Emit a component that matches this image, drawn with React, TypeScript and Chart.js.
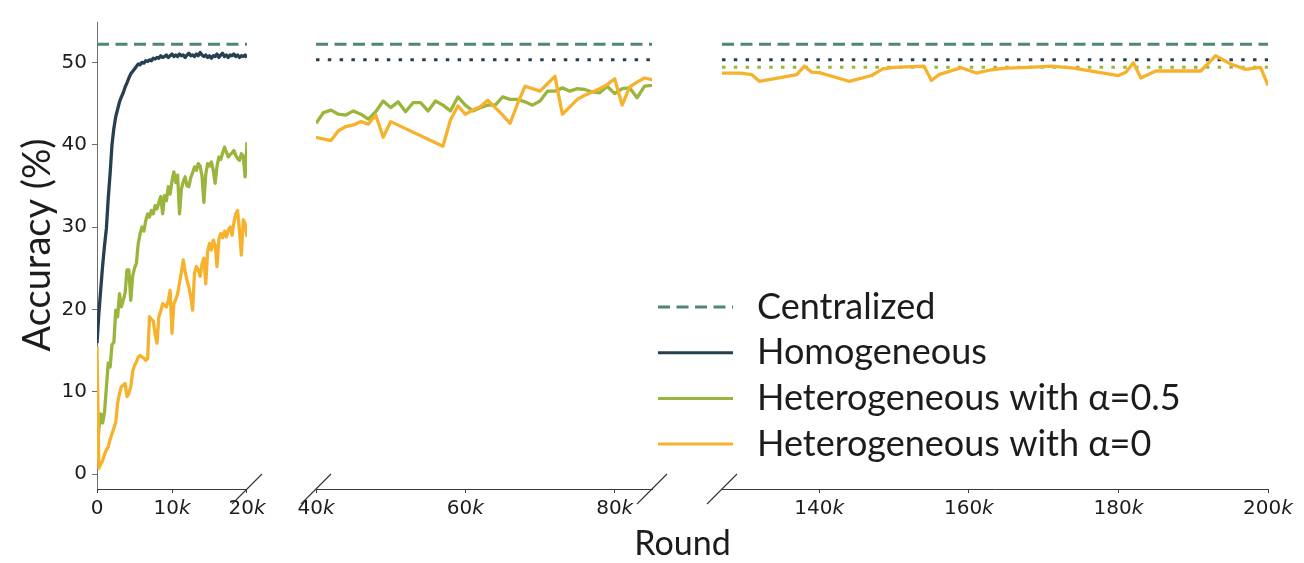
import React, { useEffect, useRef } from 'react';
import { Chart, registerables } from 'chart.js';

Chart.register(...registerables);

// ---------------- data ----------------
const ROUNDS_P1 = [
  0, 250, 500, 750, 1000, 1250, 1500, 1750, 2000, 2250,
  2500, 2750, 3000, 3250, 3500, 3750, 4000, 4250, 4500, 4750,
  5000, 5250, 5500, 5750, 6000, 6250, 6500, 6750, 7000, 7250,
  7500, 7750, 8000, 8250, 8500, 8750, 9000, 9250, 9500, 9750,
  10000, 10250, 10500, 10750, 11000, 11250, 11500, 11750, 12000, 12250,
  12500, 12750, 13000, 13250, 13500, 13750, 14000, 14250, 14500, 14750,
  15000, 15250, 15500, 15750, 16000, 16250, 16500, 16750, 17000, 17250,
  17500, 17750, 18000, 18250, 18500, 18750, 19000, 19250, 19500, 19750,
  20000,
];

const HOMO_P1 = [
  15.9, 19.5, 22.5, 25.3, 27.7, 29.8, 33.5, 36.5, 40.0, 42.0,
  43.4, 44.3, 45.2, 45.8, 46.3, 47.0, 47.5, 48.1, 48.6, 48.9,
  49.2, 49.5, 49.8, 49.7, 50.0, 49.9, 50.2, 50.1, 50.3, 50.2,
  50.5, 50.4, 50.6, 50.5, 50.8, 50.6, 50.7, 50.9, 50.6, 50.8,
  51.0, 50.7, 50.9, 50.7, 51.0, 50.8, 50.9, 50.6, 50.9, 51.1,
  50.8, 50.9, 50.7, 51.0, 50.8, 51.2, 50.9, 50.7, 50.9, 50.6,
  50.8, 50.5, 50.8, 50.7, 51.0, 50.6, 50.9, 51.1, 50.7, 50.9,
  50.6, 50.9, 50.8, 51.0, 50.7, 50.9, 50.6, 50.8, 50.7, 50.9,
  50.6,
];

const HET05_P1 = [
  2.0, 5.5, 7.3, 6.2, 7.5, 10.5, 13.5, 13.0, 15.7, 16.0,
  19.9, 19.1, 21.9, 20.3, 21.1, 22.0, 24.8, 24.8, 21.1, 24.0,
  25.0, 25.6, 28.0, 29.2, 30.0, 29.5, 30.8, 31.6, 31.2, 32.0,
  31.6, 32.6, 32.2, 33.0, 33.7, 31.6, 33.8, 33.2, 34.9, 34.0,
  35.6, 36.7, 35.4, 36.3, 31.6, 34.6, 35.5, 36.1, 35.0, 34.9,
  36.0, 36.6, 37.3, 36.9, 37.7, 37.4, 36.2, 33.0, 36.4, 37.7,
  37.4, 37.9, 36.9, 35.3, 37.4, 38.5, 38.2, 39.0, 39.7, 39.1,
  38.5, 38.8, 39.0, 39.3, 38.7, 38.3, 38.1, 38.9, 38.6, 36.1,
  40.3,
];

const HET0_P1 = [
  15.5, 0.7, 1.2, 1.6, 2.4, 2.9, 3.3, 4.2, 4.9, 5.6,
  6.3, 8.6, 9.8, 10.6, 10.8, 11.0, 9.4, 9.8, 10.6, 12.4,
  13.2, 13.6, 14.2, 14.4, 14.2, 14.1, 13.8, 14.0, 19.1, 18.8,
  18.6, 17.0, 15.9, 19.1, 19.8, 20.7, 20.5, 20.3, 21.0, 22.3,
  17.1, 20.7, 21.2, 21.9, 23.2, 24.5, 26.0, 24.6, 23.5, 22.7,
  21.5, 19.9, 24.4, 25.2, 24.8, 24.0, 25.5, 26.2, 23.1, 27.0,
  28.0, 27.2, 28.4, 27.8, 25.2, 28.5, 29.2, 28.7, 29.5, 28.8,
  29.6, 30.0, 29.0, 30.5, 31.6, 32.0, 29.5, 26.6, 30.9, 30.4,
  28.8,
];

const ROUNDS_P2_HET05 = [
  40000, 41000, 42000, 43000, 44000, 45000, 46000, 47000, 48000, 49000,
  50000, 51000, 52000, 53000, 54000, 55000, 56000, 57000, 58000, 59000,
  60000, 61000, 62000, 63000, 64000, 65000, 66000, 67000, 68000, 69000,
  70000, 71000, 72000, 73000, 74000, 75000, 76000, 77000, 78000, 79000,
  80000, 81000, 82000, 83000, 84000, 85000,
];
const HET05_P2 = [
  42.6, 43.9, 44.2, 43.7, 43.6, 44.1, 43.7, 43.1, 44.0, 45.3,
  44.5, 45.2, 44.0, 45.1, 45.1, 44.1, 45.3, 44.8, 44.1, 45.8,
  44.8, 44.1, 44.5, 44.8, 44.8, 45.8, 45.5, 45.5, 45.2, 44.8,
  45.3, 46.5, 46.5, 46.9, 46.5, 46.8, 46.7, 46.4, 46.3, 47.1,
  46.2, 46.8, 46.9, 45.7, 47.1, 47.2,
];

const ROUNDS_P2_HET0 = [
  40000, 42000, 43000, 44000, 45000, 46000, 47000, 48000, 49000, 50000,
  57000, 58000, 59000, 60000, 61000, 62000, 63000, 64000, 65000, 66000,
  67000, 68000, 69000, 70000, 71000, 72000, 73000, 74000, 75000, 76000,
  77000, 78000, 79000, 80000, 81000, 82000, 83000, 84000, 85000,
];
const HET0_P2 = [
  40.9, 40.5, 41.7, 42.2, 42.4, 42.8, 42.5, 43.6, 40.9, 42.8,
  39.8, 43.0, 44.7, 43.7, 44.2, 44.6, 45.4, 44.5, 43.6, 42.6,
  45.0, 47.1, 46.8, 46.5, 47.4, 48.3, 43.7, 44.6, 45.5, 46.0,
  46.4, 46.8, 47.3, 48.0, 44.8, 47.0, 47.6, 48.1, 47.9,
];

const ROUNDS_P3_HET0 = [
  127000, 129500, 131000, 132000, 137000, 138000, 139000, 140000, 144000, 147000,
  148500, 150000, 154000, 155000, 156000, 159000, 161000, 163000, 165000, 168000,
  171000, 174000, 180000, 181000, 182000, 183000, 185000, 191000, 193000, 195000,
  197000, 199000, 200000,
];
const HET0_P3 = [
  48.7, 48.7, 48.5, 47.7, 48.5, 49.55, 48.8, 48.75, 47.7, 48.4,
  49.2, 49.4, 49.55, 47.8, 48.5, 49.35, 48.7, 49.1, 49.3, 49.4,
  49.55, 49.3, 48.4, 48.8, 49.95, 48.1, 48.95, 48.95, 50.8, 49.8,
  49.15, 49.4, 47.2,
];

const CENTRALIZED_ACC = 52.2;
const HOMO_FINAL_ACC = 50.3;
const HET05_FINAL_ACC = 49.4;

const PANEL_RANGES = [
  [0, 20000],
  [40000, 85000],
  [127000, 200000],
];
const X_TICKS = [
  [0, 10000, 20000],
  [40000, 60000, 80000],
  [140000, 160000, 180000, 200000],
];
const Y_TICKS = [0, 10, 20, 30, 40, 50];

const LABELS = {
  central: 'Centralized',
  homo: 'Homogeneous',
  het05: 'Heterogeneous with α=0.5',
  het0: 'Heterogeneous with α=0',
};
const LEGEND_ORDER = [LABELS.central, LABELS.homo, LABELS.het05, LABELS.het0];
const X_TITLE = 'Round';
const Y_TITLE = 'Accuracy (%)';

// ---------------- styles ----------------
const COLORS = {
  central: '#4e877a',
  homo: '#264052',
  het05: '#9ab53b',
  het0: '#f7b22d',
};
const AXIS_COLOR_X = '#3a3a3a';
const AXIS_COLOR_Y = '#6f6f6f';
const TEXT_COLOR = '#1c1c1c';
const TITLE_FONT = 'Lato';
const TICK_FONT = { family: "'DejaVu Sans'", size: 20 };
const PANEL_WIDTHS = [150, 336, 546];
const GAP_WIDTHS = [69, 70];
const DASH = [12, 6.5];
const DOT = [3.5, 8.3];
const LINE_W = 3.3;

const pts = (xs: number[], ys: number[]) => xs.map((x, i) => ({ x, y: ys[i] }));
const flat = (range: number[], v: number) => [
  { x: range[0], y: v },
  { x: range[1], y: v },
];

const baseLine = {
  type: 'line' as const,
  borderWidth: LINE_W,
  pointRadius: 0,
  pointHoverRadius: 0,
  tension: 0,
  fill: false,
  borderCapStyle: 'butt' as const,
  borderJoinStyle: 'round' as const,
  yAxisID: 'y',
};

function buildDatasets() {
  const ds: any[] = [];
  // Panel 1
  ds.push({ ...baseLine, label: LABELS.central, xAxisID: 'x1', data: flat(PANEL_RANGES[0], CENTRALIZED_ACC), borderColor: COLORS.central, borderDash: DASH, borderWidth: 3, order: 5 });
  ds.push({ ...baseLine, label: LABELS.homo, xAxisID: 'x1', data: pts(ROUNDS_P1, HOMO_P1), borderColor: COLORS.homo, order: 3 });
  ds.push({ ...baseLine, label: LABELS.het05, xAxisID: 'x1', data: pts(ROUNDS_P1, HET05_P1), borderColor: COLORS.het05, order: 2 });
  ds.push({ ...baseLine, label: LABELS.het0, xAxisID: 'x1', data: pts(ROUNDS_P1, HET0_P1), borderColor: COLORS.het0, order: 1 });
  // Panel 2
  ds.push({ ...baseLine, label: LABELS.central, xAxisID: 'x2', data: flat(PANEL_RANGES[1], CENTRALIZED_ACC), borderColor: COLORS.central, borderDash: DASH, borderWidth: 3, order: 5 });
  ds.push({ ...baseLine, label: LABELS.homo, xAxisID: 'x2', data: flat(PANEL_RANGES[1], HOMO_FINAL_ACC), borderColor: COLORS.homo, borderDash: DOT, borderWidth: 3, order: 4 });
  ds.push({ ...baseLine, label: LABELS.het05, xAxisID: 'x2', data: pts(ROUNDS_P2_HET05, HET05_P2), borderColor: COLORS.het05, order: 2 });
  ds.push({ ...baseLine, label: LABELS.het0, xAxisID: 'x2', data: pts(ROUNDS_P2_HET0, HET0_P2), borderColor: COLORS.het0, order: 1 });
  // Panel 3
  ds.push({ ...baseLine, label: LABELS.central, xAxisID: 'x3', data: flat(PANEL_RANGES[2], CENTRALIZED_ACC), borderColor: COLORS.central, borderDash: DASH, borderWidth: 3, order: 5 });
  ds.push({ ...baseLine, label: LABELS.homo, xAxisID: 'x3', data: flat(PANEL_RANGES[2], HOMO_FINAL_ACC), borderColor: COLORS.homo, borderDash: DOT, borderWidth: 3, order: 4 });
  ds.push({ ...baseLine, label: LABELS.het05, xAxisID: 'x3', data: flat(PANEL_RANGES[2], HET05_FINAL_ACC), borderColor: COLORS.het05, borderDash: DOT, borderWidth: 3, order: 4 });
  ds.push({ ...baseLine, label: LABELS.het0, xAxisID: 'x3', data: pts(ROUNDS_P3_HET0, HET0_P3), borderColor: COLORS.het0, order: 1 });
  return ds;
}

const fmtRound = (v: number) => (v === 0 ? '0' : `${Math.round(v / 1000)}k`);

function xScale(i: number) {
  return {
    type: 'linear',
    position: 'bottom',
    stack: 'x',
    stackWeight: PANEL_WIDTHS[i],
    min: PANEL_RANGES[i][0],
    max: PANEL_RANGES[i][1],
    afterBuildTicks: (s: any) => {
      s.ticks = X_TICKS[i].map((v) => ({ value: v }));
    },
    afterFit: (s: any) => {
      s.height = 28;
    },
    grid: {
      display: true,
      drawOnChartArea: false,
      drawTicks: true,
      tickLength: 4,
      color: AXIS_COLOR_X,
      lineWidth: 1,
    },
    border: { display: true, color: AXIS_COLOR_X, width: 1 },
    ticks: {
      font: TICK_FONT,
      // labels are re-drawn by the xTickLabels plugin with an italic "k"
      color: 'rgba(0,0,0,0)',
      padding: 0,
      maxRotation: 0,
      autoSkip: false,
      callback: (v: number) => fmtRound(v),
    },
  };
}

function gapScale(i: number) {
  return {
    type: 'linear',
    position: 'bottom',
    stack: 'x',
    stackWeight: GAP_WIDTHS[i],
    display: false,
    min: 0,
    max: 1,
  };
}

const xTickLabels = {
  id: 'xTickLabels',
  afterDraw(chart: any) {
    const { ctx, chartArea } = chart;
    const baseline = chartArea.bottom + 25;
    ctx.save();
    ctx.fillStyle = TEXT_COLOR;
    ctx.textBaseline = 'alphabetic';
    ctx.textAlign = 'left';
    ['x1', 'x2', 'x3'].forEach((id, i) => {
      const s = chart.scales[id];
      s.ticks.forEach((t: any) => {
        const v = t.value;
        const px = s.getPixelForValue(v);
        const num = v === 0 ? '0' : String(Math.round(v / 1000));
        const suf = v === 0 ? '' : 'k';
        ctx.font = `20px 'DejaVu Sans'`;
        const w1 = ctx.measureText(num).width;
        ctx.font = `oblique 20px 'DejaVu Sans'`;
        const w2 = suf ? ctx.measureText(suf).width : 0;
        const x = px - (w1 + w2) / 2;
        ctx.font = `20px 'DejaVu Sans'`;
        ctx.fillText(num, x, baseline);
        if (suf) {
          ctx.font = `oblique 20px 'DejaVu Sans'`;
          ctx.fillText(suf, x + w1, baseline);
        }
      });
    });
    ctx.restore();
  },
};

const breakMarks = {
  id: 'breakMarks',
  afterDraw(chart: any) {
    const { ctx, scales, chartArea } = chart;
    const y = chartArea.bottom;
    const xs = [scales.x1.right, scales.x2.left, scales.x2.right, scales.x3.left];
    ctx.save();
    ctx.strokeStyle = '#333333';
    ctx.lineWidth = 1.1;
    xs.forEach((x: number) => {
      ctx.beginPath();
      ctx.moveTo(x - 15, y + 15);
      ctx.lineTo(x + 15, y - 15);
      ctx.stroke();
    });
    ctx.restore();
  },
};

const yTitle = {
  id: 'yTitle',
  afterDraw(chart: any) {
    const { ctx } = chart;
    ctx.save();
    ctx.translate(38, 245);
    ctx.rotate(-Math.PI / 2);
    ctx.font = `38px ${TITLE_FONT}`;
    ctx.fillStyle = TEXT_COLOR;
    ctx.textAlign = 'center';
    ctx.textBaseline = 'middle';
    ctx.fillText(Y_TITLE, 0, 0);
    ctx.restore();
  },
};

const customLegend = {
  id: 'customLegend',
  afterDraw(chart: any) {
    const { ctx } = chart;
    const x0 = 658;
    const lineLen = 75;
    const textX = 757;
    const y0 = 307;
    const rowH = 45.7;
    ctx.save();
    LEGEND_ORDER.forEach((label, i) => {
      const ds = chart.data.datasets.find((d: any) => d.label === label && (!d.borderDash || d.borderDash === DASH));
      const y = y0 + i * rowH;
      ctx.beginPath();
      ctx.setLineDash(ds.borderDash || []);
      ctx.strokeStyle = ds.borderColor;
      ctx.lineWidth = 3;
      ctx.lineCap = 'butt';
      ctx.moveTo(x0, y);
      ctx.lineTo(x0 + lineLen, y);
      ctx.stroke();
      ctx.setLineDash([]);
      ctx.font = `36px ${TITLE_FONT}`;
      ctx.fillStyle = TEXT_COLOR;
      ctx.textAlign = 'left';
      ctx.textBaseline = 'middle';
      ctx.fillText(label, textX, y);
    });
    ctx.restore();
  },
};

export default function App() {
  const ref = useRef<HTMLCanvasElement>(null);
  useEffect(() => {
    if (!ref.current) return;
    const chart = new Chart(ref.current, {
      type: 'line',
      data: { datasets: buildDatasets() },
      options: {
        animation: false,
        responsive: false,
        devicePixelRatio: 1,
        layout: { padding: { left: 0, right: 36, top: 22, bottom: 2 } },
        scales: {
          y: {
            type: 'linear',
            position: 'left',
            min: -1.82,
            max: 54.9,
            afterBuildTicks: (s: any) => {
              s.ticks = Y_TICKS.map((v) => ({ value: v }));
            },
            afterFit: (s: any) => {
              s.width = 97;
            },
            grid: {
              display: true,
              drawOnChartArea: false,
              drawTicks: true,
              tickLength: 5,
              color: AXIS_COLOR_Y,
              lineWidth: 1,
            },
            border: { display: true, color: AXIS_COLOR_Y, width: 1 },
            ticks: { font: TICK_FONT, color: TEXT_COLOR, padding: 5 },
          },
          x1: xScale(0),
          g1: gapScale(0),
          x2: xScale(1),
          g2: gapScale(1),
          x3: xScale(2),
        } as any,
        plugins: {
          legend: { display: false },
          tooltip: { enabled: false },
          title: {
            display: true,
            position: 'bottom',
            text: X_TITLE,
            fullSize: false,
            color: TEXT_COLOR,
            font: { family: TITLE_FONT, size: 34, weight: 'normal', lineHeight: 1 },
            padding: { top: 10, bottom: 0 },
          },
        },
      } as any,
      plugins: [xTickLabels, breakMarks, yTitle, customLegend],
    });
    return () => chart.destroy();
  }, []);
  return (
    <canvas
      ref={ref}
      width={1304}
      height={563}
      style={{ position: 'fixed', left: 0, top: 0, width: '1304px', height: '563px', display: 'block' }}
    />
  );
}
